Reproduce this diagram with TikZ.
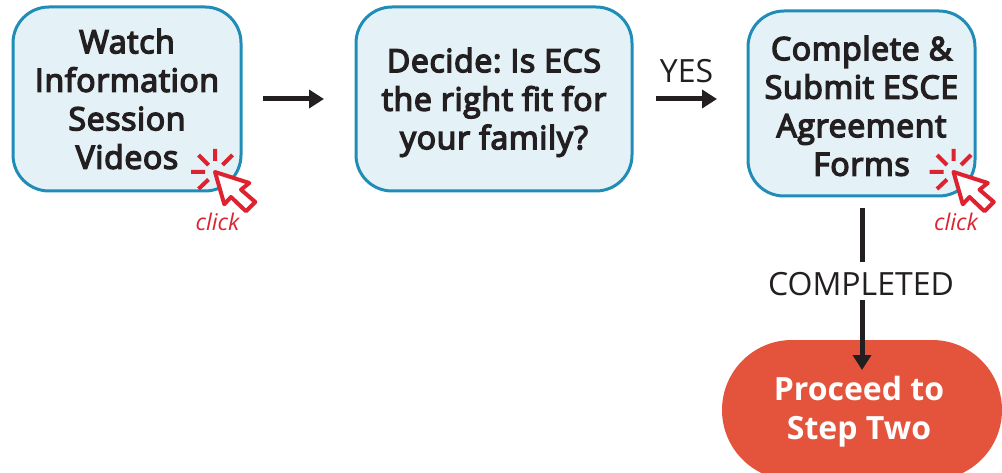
\documentclass[tikz,border=0pt]{standalone}
\usepackage{fontspec}
\setmainfont{Open Sans}
\newfontfamily\semibold[FakeBold=4.5,LetterSpace=2.0]{Open Sans}
\frenchspacing
\usepackage{tikz}
\usetikzlibrary{arrows.meta}
\definecolor{boxfill}{HTML}{E4F2F7}
\definecolor{boxline}{HTML}{1F8DB8}
\definecolor{stepred}{HTML}{E4533C}
\definecolor{clickred}{HTML}{DD2230}
\definecolor{inkblack}{HTML}{231F20}
\tikzset{
	flowbox/.style={draw=boxline,fill=boxfill,line width=3pt,rounded corners=36pt,align=center,text=inkblack,font=\fontsize{32}{38.5}\selectfont\semibold,inner sep=0pt},
	stepbox/.style={fill=stepred,rounded corners=70pt,align=center,text=white,font=\fontsize{32}{38.5}\selectfont\bfseries,inner sep=0pt,minimum width=280pt,minimum height=140pt},
	flowline/.style={draw=inkblack,line width=5pt},
	flowlabel/.style={text=inkblack,font=\fontsize{32}{38}\selectfont,inner sep=0pt},
	clickcursor/.pic={
		\draw[draw=clickred,fill=white,line width=4pt,line join=round] (0,0) -- (34.3,11) -- (26,17.7) -- (40.3,30) -- (31,39.3) -- (16,25) -- (9.3,32.3) -- cycle;
		\draw[draw=clickred,line width=4pt] (0,-11) -- (0,-23) (-6.5,-7) -- (-16.5,-17) (7.5,-7) -- (17.5,-17) (-10,0) -- (-24,0) (-6.5,7.5) -- (-16.5,17);
		\node[text=clickred,font=\fontsize{23}{27}\selectfont\itshape,inner sep=0pt] (-text) at (2.5,50) {click};
	}
}
\begin{document}
\begin{tikzpicture}[>={Triangle[length=15pt,width=18pt]},x=1pt,y=-1pt]
	\useasboundingbox (0,0) rectangle (1002,473);
	\node[flowbox,minimum width=228pt,minimum height=184pt] (watch) at (127,99) {Watch\\Information\\Session\\Videos};
	\node[flowbox,minimum width=276pt,minimum height=184pt] (decide) at (494,99) {\rule{0pt}{31pt}Decide: Is ECS\\the right fit for\\your family?};
	\node[flowbox,minimum width=227pt,minimum height=185pt] (forms) at (861.5,103.5) {\rule{0pt}{29pt}Complete \&\\Submit ESCE\\Agreement\\Forms};
	\node[stepbox] (proceed) at (862,410) {\rule{0pt}{28pt}Proceed to\hspace*{6pt}\\Step Two\hspace*{6pt}};

	\pic (clickA) at (215,172) {clickcursor};
	\pic (clickB) at (953.5,172) {clickcursor};

	\coordinate (watchout) at (263,99); \coordinate (decidein) at (324,99);
	\coordinate (decideout) at (656,99); \coordinate (formsin) at (717,99);
	\coordinate (formsout) at (862,208); \coordinate (labeltop) at (862,262);
	\coordinate (labelbottom) at (862,300); \coordinate (proceedin) at (862,370);
	\draw[flowline,->] (watchout) -- (decidein);
	\draw[flowline,->] (decideout) -- (formsin);
	\draw[flowline] (formsout) -- (labeltop);
	\draw[flowline,->] (labelbottom) -- (proceedin);

	\node[flowlabel] (yes) at (686.5,71) {YES};
	\node[flowlabel] (completed) at (861,284) {COMPLETED};
\end{tikzpicture}
\end{document}
